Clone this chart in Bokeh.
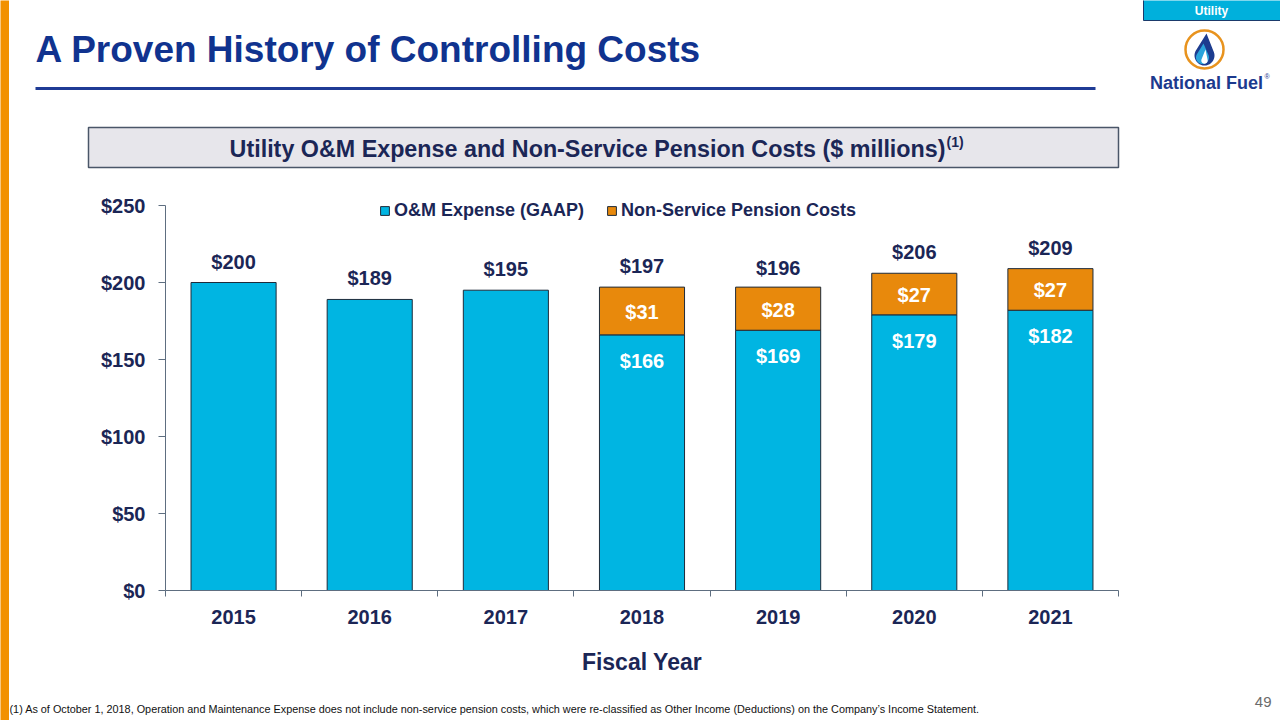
import numpy as np
from bokeh.plotting import figure
from bokeh.layouts import row, column
from bokeh.models import (Range1d, FixedTicker, PrintfTickFormatter, LinearAxis,
                          ColumnDataSource, Legend, LegendItem)
from bokeh.core.properties import value
from bokeh.embed import file_html
from bokeh.resources import INLINE

# ---- data ($ millions) ----
years = ["2015", "2016", "2017", "2018", "2019", "2020", "2021"]
om_expense = [200, 189, 195, 166, 169, 179, 182]
pension_costs = [0, 0, 0, 31, 28, 27, 27]
totals = [200, 189, 195, 197, 196, 206, 209]
y_ticks = [0, 50, 100, 150, 200, 250]

FONT = "Liberation Sans"
NAVY = "#1B2656"
TITLE_BLUE = "#10338F"
CYAN = "#00B5E2"
ORANGE = "#E8890C"
STRIP = "#F29100"
EDGE = "#1E2B3A"
AXIS = "#5E6E80"


def bare(fig):
    fig.axis.visible = False
    fig.grid.visible = False
    fig.outline_line_color = None
    fig.background_fill_color = None
    fig.border_fill_color = None
    return fig


# ---- left accent strip ----
strip = bare(figure(width=9, height=720, x_range=Range1d(0, 1), y_range=Range1d(0, 1),
                    output_backend="svg", toolbar_location=None, min_border=0,
                    frame_align=False))
strip.background_fill_color = STRIP
strip.border_fill_color = STRIP

# ---- header: title, rule, chart caption box, logo ----
W = 1271
hdr = bare(figure(width=W, height=180, x_range=Range1d(9, 1280), y_range=Range1d(180, 0),
                  output_backend="svg", toolbar_location=None, min_border=0,
                  frame_align=False))
hdr.text(x=[35], y=[49], text=["A Proven History of Controlling Costs"],
         text_font=value(FONT), text_font_style="bold", text_font_size="37px",
         text_color=TITLE_BLUE, text_baseline="middle", text_align="left")
hdr.segment(x0=[35], y0=[88], x1=[1095], y1=[88], line_color="#1F3B95", line_width=3)

hdr.quad(left=[88], right=[1118], top=[127], bottom=[167],
         fill_color="#E7E6EB", line_color="#4A5668", line_width=1.5)
hdr.text(x=[945], y=[148], text=["Utility O&M Expense and Non-Service Pension Costs ($ millions)"],
         text_font=value(FONT), text_font_style="bold", text_font_size="23.3px",
         text_color=NAVY, text_baseline="middle", text_align="right")
hdr.text(x=[946], y=[141], text=["(1)"],
         text_font=value(FONT), text_font_style="bold", text_font_size="14px",
         text_color=NAVY, text_baseline="middle", text_align="left")

# "Utility" tag
hdr.quad(left=[1143], right=[1281], top=[-1], bottom=[20],
         fill_color="#00B0DC", line_color="#1B3A6B", line_width=1)
hdr.text(x=[1211], y=[10.5], text=["Utility"], text_font=value(FONT), text_font_style="bold",
         text_font_size="12px", text_color="white", text_align="center", text_baseline="middle")

# logo ring and flame
hdr.scatter(x=[1204], y=[49], size=38, marker="circle", fill_color="white",
            line_color="#E8931E", line_width=2.5)


def drop(tipx, tipy, cx, cy, r):
    d = np.hypot(cx - tipx, cy - tipy)
    half = np.degrees(np.arcsin(r / d))
    a = np.radians(np.linspace(-90 + (90 - half), 270 - (90 - half), 40))
    xs = [tipx] + list(cx + r * np.cos(a))
    ys = [tipy] + list(cy + r * np.sin(a))
    return xs, ys


xs, ys = drop(1206, 33, 1204, 55, 10)
hdr.patch(xs, ys, fill_color="#1D3C8F", line_color=None)
xs, ys = drop(1203, 43, 1202, 57, 6.5)
hdr.patch(xs, ys, fill_color="#2AA4DC", line_color=None)
xs, ys = drop(1205, 49, 1204, 60, 3.2)
hdr.patch(xs, ys, fill_color="white", line_color=None)

hdr.text(x=[1206], y=[82], text=["National Fuel"], text_font=value(FONT), text_font_style="bold",
         text_font_size="18px", text_color="#1C3A8E", text_align="center", text_baseline="middle")
hdr.text(x=[1264], y=[76], text=["®"], text_font=value(FONT),
         text_font_size="7px", text_color="#1C3A8E", text_align="left", text_baseline="middle")

# ---- chart ----
n = len(years)
xc = [i + 0.5 for i in range(n)]
src = ColumnDataSource(dict(x=xc, om=om_expense, total=totals,
                            total_lbl=[f"${v}" for v in totals]))
idx = [i for i in range(n) if pension_costs[i] > 0]
psrc = ColumnDataSource(dict(
    x=[xc[i] for i in idx],
    om=[om_expense[i] for i in idx],
    top=[om_expense[i] + pension_costs[i] for i in idx],
    mid=[om_expense[i] + pension_costs[i] / 2 for i in idx],
    om_lbl=[f"${om_expense[i]}" for i in idx],
    p_lbl=[f"${pension_costs[i]}" for i in idx],
))

# frame: 395 px tall, 1.54 px per $1M, with a little headroom above $250 for the legend
p = figure(width=W, height=500, x_range=Range1d(0, n), y_range=Range1d(0, 250 + 10 / 1.54),
           output_backend="svg", toolbar_location=None, frame_align=False,
           min_border_left=156, min_border_right=162, min_border_top=15, min_border_bottom=90)
p.outline_line_color = None
p.grid.visible = False
p.xaxis.visible = False
p.yaxis.visible = False

r_om = p.vbar(x="x", top="om", bottom=0, width=0.625, source=src,
              fill_color=CYAN, line_color=EDGE, line_width=1)
r_pen = p.vbar(x="x", top="top", bottom="om", width=0.625, source=psrc,
               fill_color=ORANGE, line_color=EDGE, line_width=1)

p.text(x="x", y="total", text="total_lbl", source=src, y_offset=-21,
       text_font=value(FONT), text_font_style="bold", text_font_size="20px",
       text_color=NAVY, text_align="center", text_baseline="middle")
p.text(x="x", y="om", text="om_lbl", source=psrc, y_offset=26,
       text_font=value(FONT), text_font_style="bold", text_font_size="20px",
       text_color="white", text_align="center", text_baseline="middle")
p.text(x="x", y="mid", text="p_lbl", source=psrc, y_offset=1,
       text_font=value(FONT), text_font_style="bold", text_font_size="20px",
       text_color="white", text_align="center", text_baseline="middle")

yax = LinearAxis(ticker=FixedTicker(ticks=y_ticks), formatter=PrintfTickFormatter(format="$%d"),
                 bounds=(0, 250))
yax.axis_line_color = AXIS
yax.major_tick_line_color = AXIS
yax.major_tick_out = 7
yax.major_tick_in = 0
yax.minor_tick_line_color = None
yax.major_label_standoff = 13
yax.major_label_text_font = FONT
yax.major_label_text_font_style = "bold"
yax.major_label_text_font_size = "20px"
yax.major_label_text_color = NAVY
p.add_layout(yax, "left")

xax = LinearAxis(ticker=FixedTicker(ticks=xc, minor_ticks=list(range(n + 1))),
                 major_label_overrides={xc[i]: years[i] for i in range(n)})
xax.axis_line_color = AXIS
xax.major_tick_line_color = None
xax.major_tick_out = 0
xax.major_tick_in = 0
xax.minor_tick_line_color = AXIS
xax.minor_tick_out = 6
xax.minor_tick_in = 0
xax.major_label_standoff = 13
xax.major_label_text_font = FONT
xax.major_label_text_font_style = "bold"
xax.major_label_text_font_size = "20px"
xax.major_label_text_color = NAVY
xax.axis_label = "Fiscal Year"
xax.axis_label_standoff = 22
xax.axis_label_text_font = FONT
xax.axis_label_text_font_style = "bold"
xax.axis_label_text_font_size = "23px"
xax.axis_label_text_color = NAVY
p.add_layout(xax, "below")

legend = Legend(items=[LegendItem(label="O&M Expense (GAAP)", renderers=[r_om]),
                       LegendItem(label="Non-Service Pension Costs", renderers=[r_pen])],
                orientation="horizontal", location=(214, 369))
legend.background_fill_alpha = 0
legend.border_line_color = None
legend.padding = 0
legend.margin = 0
legend.spacing = 22
legend.glyph_width = 11
legend.glyph_height = 11
legend.label_standoff = 4
legend.label_text_font = FONT
legend.label_text_font_style = "bold"
legend.label_text_font_size = "18px"
legend.label_text_color = NAVY
p.add_layout(legend)

# ---- footer: footnote and page number ----
ftr = bare(figure(width=W, height=40, x_range=Range1d(9, 1280), y_range=Range1d(720, 680),
                  output_backend="svg", toolbar_location=None, min_border=0,
                  frame_align=False))
ftr.text(x=[9], y=[708], text=["(1) As of October 1, 2018, Operation and Maintenance Expense does not include "
                               "non-service pension costs, which were re-classified as Other Income (Deductions) "
                               "on the Company\u2019s Income Statement."],
         text_font=value(FONT), text_font_size="10.85px", text_color="#111111",
         text_align="left", text_baseline="middle")
ftr.text(x=[1271], y=[701], text=["49"], text_font=value(FONT), text_font_size="15px",
         text_color="#6B6B6B", text_align="right", text_baseline="middle")

layout = row(strip, column(hdr, p, ftr, spacing=0), spacing=0)
open("out.html", "w").write(file_html(layout, INLINE))
